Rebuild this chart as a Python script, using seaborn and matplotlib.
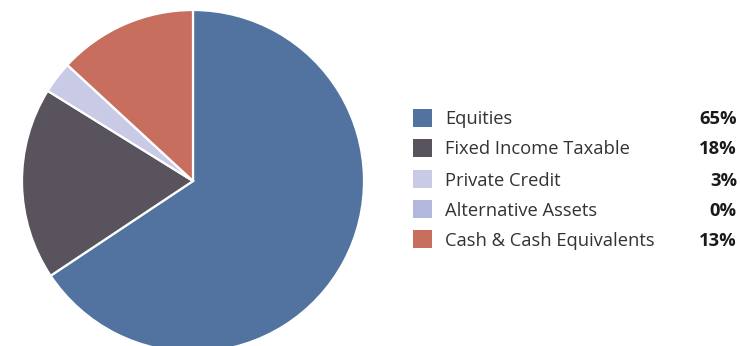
import matplotlib
matplotlib.use("Agg")
import matplotlib.pyplot as plt
from matplotlib.patches import Rectangle
import seaborn as sns

categories = ["Equities", "Fixed Income Taxable", "Private Credit",
              "Alternative Assets", "Cash & Cash Equivalents"]
shares = [65, 18, 3, 0, 13]
share_labels = ["65%", "18%", "3%", "0%", "13%"]
colors = ["#52739f", "#58535c", "#c9cbe6", "#b3b6dd", "#c76e5f"]

sns.set_theme(style="white")
plt.rcParams["font.family"] = ["Open Sans", "DejaVu Sans"]
palette = sns.color_palette(colors)

W, H = 740, 346
fig = plt.figure(figsize=(W / 100, H / 100), dpi=100)
ax = fig.add_axes([0, 0, 1, 1])

wedges, _ = ax.pie(shares, colors=palette, startangle=90, counterclock=False,
                   center=(193, H - 181), radius=171,
                   wedgeprops=dict(edgecolor="white", linewidth=1.6))
for w in wedges:
    w.set_clip_path(ax.patch)

ax.set_xlim(0, W)
ax.set_ylim(0, H)
ax.set_aspect("equal")
ax.axis("off")

row_y = [118, 148, 179, 209, 239]
for cat, lab, col, y in zip(categories, share_labels, palette, row_y):
    yy = H - y
    ax.add_patch(Rectangle((413, yy - 9), 19, 18, facecolor=col, edgecolor="none"))
    ax.text(445, yy - 1.5, cat, fontsize=13.2, color="#333333", va="center", ha="left")
    ax.text(737, yy - 1.5, lab, fontsize=13.2, color="#1a1a1a", va="center", ha="right",
            fontweight="bold")

fig.savefig("out.png", dpi=100)
